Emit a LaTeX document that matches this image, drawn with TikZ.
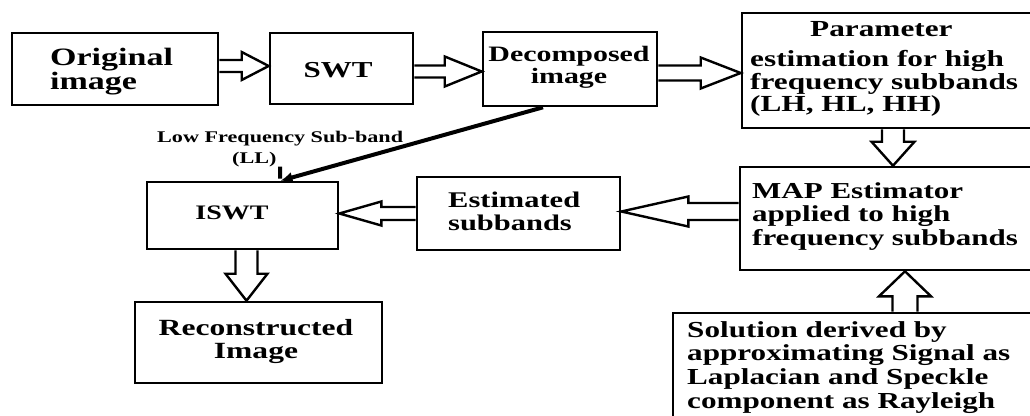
\documentclass[tikz,border=0pt]{standalone}
\usepackage{fontspec}
\setmainfont{Liberation Serif}[FakeStretch=1.36]
\usetikzlibrary{calc,arrows.meta}
\newcommand\fatarrow[5]{% start, tip, head length, shaft half width, head half width
  \draw[fat] let \p1=(#1), \p2=(#2), \p3=($(#2)!#3!(#1)$) in
    ($(\p1)!#4!90:(\p2)$) -- ($(\p3)!#4!-90:(\p1)$) -- ($(\p3)!#5!-90:(\p1)$) -- (\p2)
    -- ($(\p3)!#5!90:(\p1)$) -- ($(\p3)!#4!90:(\p1)$) -- ($(\p1)!#4!-90:(\p2)$);}
\newcommand\fsz[2]{\bfseries\fontsize{#1bp}{#2bp}\selectfont}
\begin{document}
\begin{tikzpicture}[x=1bp,y=-1bp,
  box/.style={draw,line width=2.6bp,inner sep=0pt,rectangle},
  txt/.style={inner sep=0pt,text=black},
  fat/.style={line width=2.4bp,line join=miter},
  lowline/.style={line width=4bp}]
\useasboundingbox (0,0) rectangle (1030,415);
\fill[white] (0,0) rectangle (1030,415);
\clip (0,0) rectangle (1030,415);
% boxes
\node[box,minimum width=206bp,minimum height=72bp] (orig) at (115,69) {};
\node[box,minimum width=143bp,minimum height=71bp] (swt) at (341.5,68.5) {};
\node[box,minimum width=174bp,minimum height=74bp] (dec) at (570,69) {};
\node[box,minimum width=318bp,minimum height=115bp] (par) at (901,70.5) {};
\node[box,minimum width=320bp,minimum height=103bp] (map) at (900,218.5) {};
\node[box,minimum width=387bp,minimum height=147bp] (sol) at (866.5,386.5) {};
\node[box,minimum width=203bp,minimum height=73bp] (est) at (518.5,213.5) {};
\node[box,minimum width=191bp,minimum height=67bp] (iswt) at (242.5,215.5) {};
\node[box,minimum width=247bp,minimum height=81bp] (rec) at (258.5,342.5) {};
% texts
\node[txt,anchor=west,align=left,font=\fsz{25}{24}] (origtxt) at (50,72) {Original\\image};
\node[txt,font=\fsz{22.8}{24}] (swttxt) at (338,70) {SWT};
\node[txt,align=center,font=\fsz{22}{21.5}] (dectxt) at (569,67.5) {Decomposed\\image};
\node[txt,anchor=west,align=left,font=\fsz{23}{22.5}] (partxt) at (750,69.4)
  {\hspace*{60bp}Parameter\\[7.5bp]estimation for high\\frequency subbands\\(LH, HL, HH)};
\node[txt,anchor=west,align=left,font=\fsz{22.8}{23.5}] (maptxt) at (752,216.5)
  {MAP Estimator\\applied to high\\frequency subbands};
\node[txt,anchor=west,align=left,font=\fsz{22.4}{23}] (esttxt) at (448,210.9) {Estimated\\subbands};
\node[txt,font=\fsz{20.6}{22}] (iswttxt) at (232,212.5) {ISWT};
\node[txt,align=center,font=\fsz{23.2}{23}] (rectxt) at (256,341.5) {Reconstructed\\Image};
\node[txt,anchor=west,align=left,font=\fsz{22.9}{23.7}] (soltxt) at (687,367.2)
  {Solution derived by\\approximating Signal as\\Laplacian and Speckle\\component as Rayleigh};
\node[txt,anchor=west,align=left,font=\fsz{16.3}{21}] (lowtxt) at (157,148.6)
  {Low Frequency Sub-band\\\hspace*{75bp}(LL)};
% hollow arrows
\fatarrow{$(orig.east)+(0,-3)$}{$(swt.west)+(0,-2.5)$}{27bp}{6bp}{14bp}
\fatarrow{$(swt.east)+(0,3)$}{$(dec.west)+(0,2.5)$}{37bp}{6bp}{15bp}
\fatarrow{$(dec.east)+(0,4)$}{$(par.west)+(0,2.5)$}{40bp}{7.5bp}{15.5bp}
\fatarrow{$(par.south)+(-8,0)$}{$(map.north)+(-7,0)$}{24bp}{11bp}{21.5bp}
\fatarrow{$(map.west)+(0,-7)$}{$(est.east)+(0,-2)$}{67bp}{8.5bp}{15bp}
\fatarrow{$(est.west)+(0,0)$}{$(iswt.east)+(0,-2)$}{42bp}{6.5bp}{12bp}
\fatarrow{$(iswt.south)+(4,0)$}{$(rec.north)+(-12,0)$}{27bp}{11bp}{21bp}
\fatarrow{$(sol.north)+(38.5,0)$}{$(map.south)+(5,0)$}{25bp}{12.5bp}{26bp}
% low frequency connector
\draw[lowline,-{Latex[length=12bp,width=11bp]}] ($(dec.south)+(-27,0)$) -- ($(iswt.north)+(38,0)$);
\draw[lowline] ($(lowtxt.south west)+(123,0)$) -- ($(iswt.north)+(37.5,-2)$);
\end{tikzpicture}
\end{document}
